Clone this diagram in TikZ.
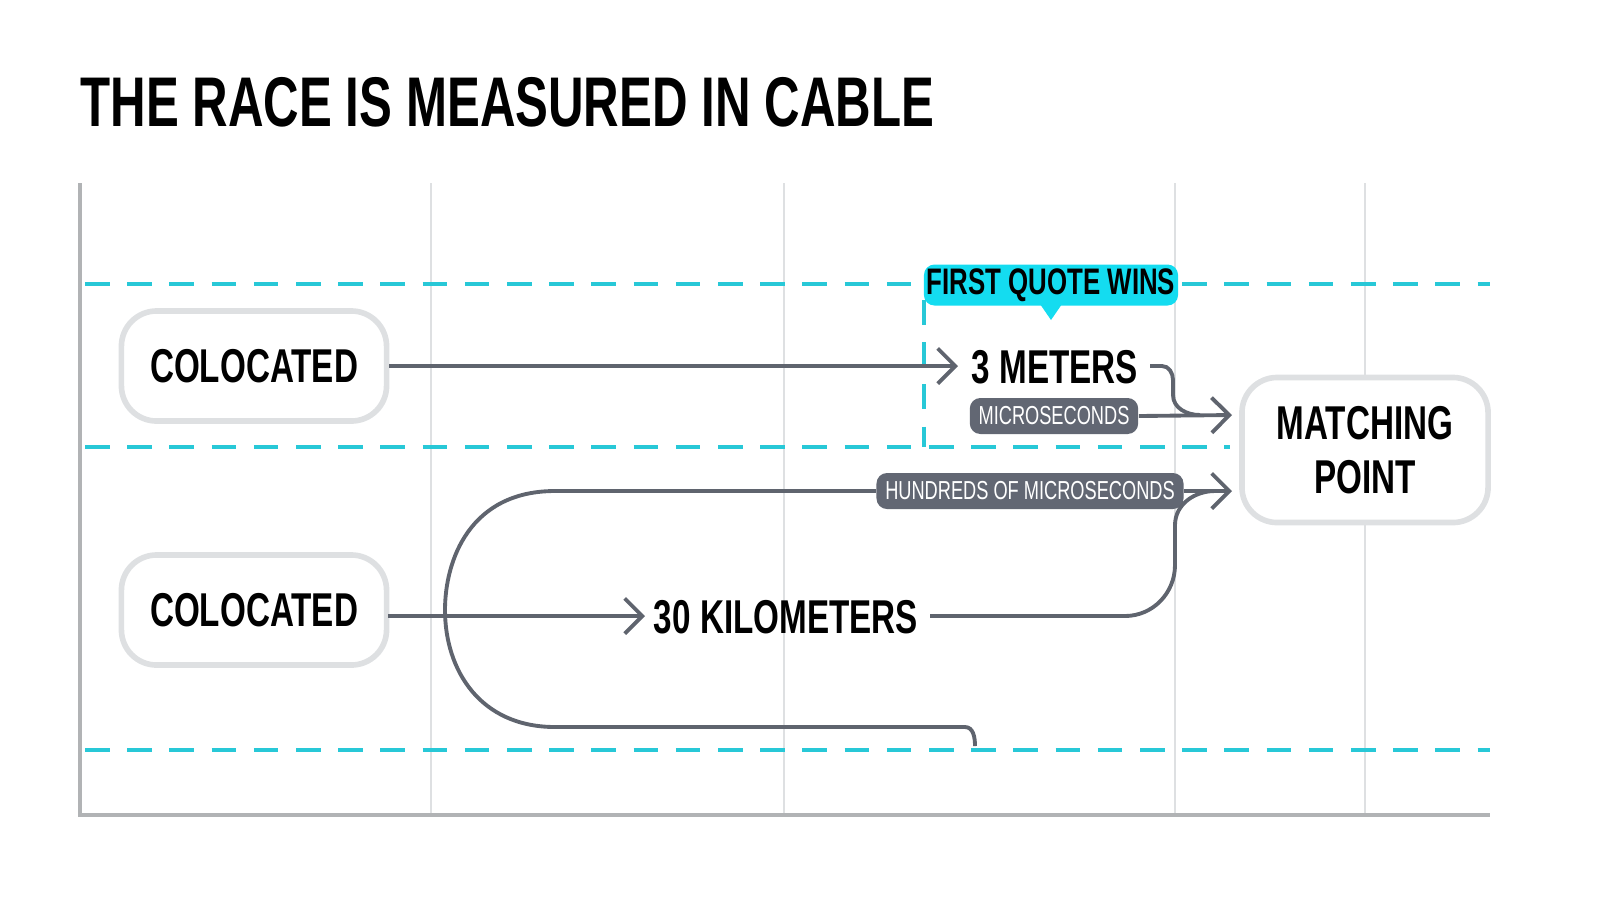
\documentclass[tikz,border=0pt]{standalone}
\usepackage{fontspec}
\setmainfont{Liberation Sans}
\newfontfamily\cond{Liberation Sans}[FakeStretch=0.70]
\usetikzlibrary{positioning,arrows.meta}
\definecolor{cyanline}{RGB}{40,200,215}
\definecolor{cyanfill}{RGB}{20,220,240}
\definecolor{wire}{RGB}{95,100,110}
\definecolor{badgefill}{RGB}{98,103,115}
\definecolor{gridc}{RGB}{222,224,226}
\begin{document}
\begin{tikzpicture}[x=0.01cm,y=-0.01cm,
    box/.style={draw=gridc,line width=1.6pt,rounded corners=10pt,fill=white,font=\cond\bfseries\fontsize{13.5}{14}\selectfont,align=center},
    badge/.style={fill=badgefill,text=white,rounded corners=3pt,font=\cond\fontsize{7.4}{8}\selectfont,inner sep=2.5pt,minimum height=0.29cm},
    big/.style={font=\cond\bfseries\fontsize{13.5}{14}\selectfont,inner sep=1pt},
    wire/.style={draw=wire,line width=1.1pt},
    arr/.style={wire,-{Straight Barb[length=5pt,width=10pt,line width=1.1pt]}},
    guide/.style={draw=cyanline,line width=1.1pt,dash pattern=on 7pt off 5pt}]
  \useasboundingbox (0,0) rectangle (1600,914);
  % title
  \node[anchor=west,font=\cond\bfseries\fontsize{20}{22}\selectfont,inner sep=0] (title) at (80,102) {THE RACE IS MEASURED IN CABLE};
  % grid
  \foreach \gx in {431,784,1175,1365}
    \draw[gridc,line width=0.8pt] (\gx,183) -- (\gx,815);
  \draw[gridc!80!black,line width=1pt] (80,183) -- (80,815) -- (1490,815);
  % guides
  \draw[guide] (85,284) -- (1490,284);
  \draw[guide] (85,447) -- (1230,447);
  \draw[guide] (85,750) -- (1490,750);
  \draw[guide] (924,300) -- (924,447);
  % callout
  \node[fill=cyanfill,rounded corners=3pt,minimum width=2.54cm,minimum height=0.41cm,font=\cond\bfseries\fontsize{10.5}{11}\selectfont,inner sep=0] (wins) at (1051,285) {FIRST QUOTE WINS};
  \fill[cyanfill] (1040,304) -- (1062,304) -- (1051,320) -- cycle;
  % boxes
  \node[box,minimum width=2.65cm,minimum height=1.1cm] (colo) at (254,366) {COLOCATED};
  \node[box,minimum width=2.65cm,minimum height=1.1cm] (coloB) at (254,610) {COLOCATED};
  \node[box,minimum width=2.46cm,minimum height=1.45cm,font=\cond\bfseries\fontsize{13.5}{15.5}\selectfont] (match) at (1365,450) {MATCHING\\POINT};
  % labels
  \node[big] (meters) at (1055,367) {3 METERS};
  \node[big] (km) at (786,617) {30 KILOMETERS};
  \node[badge,minimum width=1.61cm] (micro) at (1054,416) {MICROSECONDS};
  \node[badge,minimum width=2.88cm] (hundreds) at (1030,491) {HUNDREDS OF MICROSECONDS};
  \coordinate (mA) at (1232,415);
  \coordinate (mB) at (1232,491);
  \coordinate (loopS) at (555,491);
  \coordinate (loopE) at (975,746);
  \coordinate (kmIn) at (388,616);
  % short path
  \draw[arr] (colo.east) -- (958,366);
  \draw[wire] (1150,366) -- (1162,366) to[out=0,in=90] (1173,380) -- (1173,395) to[out=-90,in=180] (1200,415);
  \draw[arr] (micro.east) -- (mA);
  % long path
  \draw[arr] (kmIn) -- (645,616);
  \draw[wire] (loopS) -- (hundreds.west);
  \draw[arr] (hundreds.east) -- (mB);
  \draw[wire] (loopS) .. controls (470,491) and (445,560) .. (445,610)
    .. controls (445,670) and (480,727) .. (555,727) -- (965,727)
    to[out=0,in=90] (loopE);
  \draw[wire] (930,616) -- (1125,616) to[out=0,in=-90] (1175,565)
    -- (1175,525) to[out=90,in=180] (1215,491);
\end{tikzpicture}
\end{document}
